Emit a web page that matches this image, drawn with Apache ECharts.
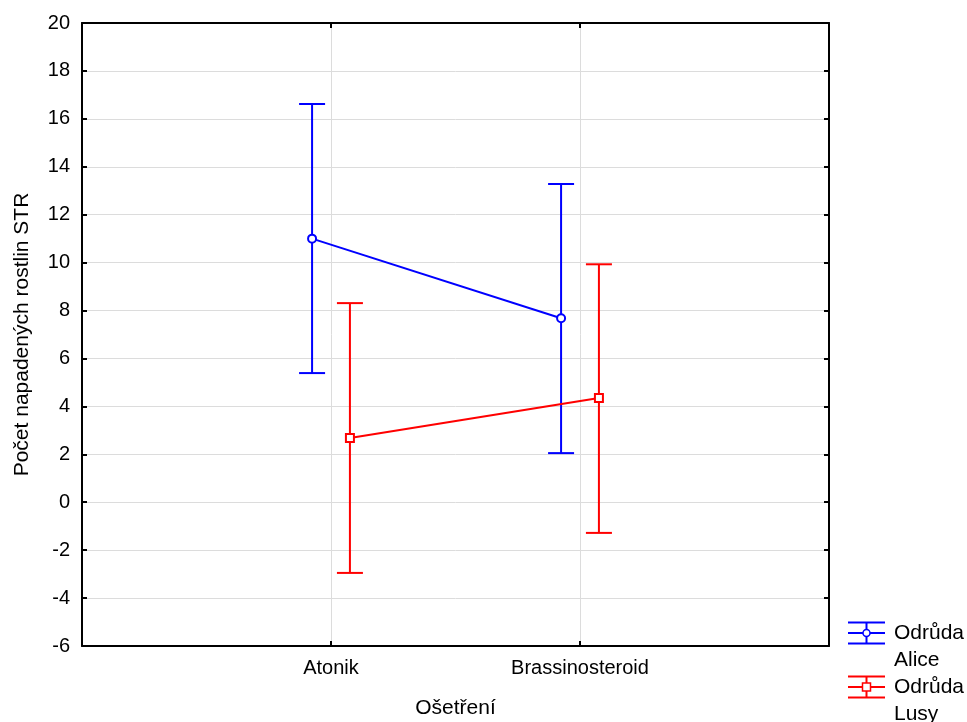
<!DOCTYPE html>
<html>
<head>
<meta charset="utf-8">
<script src="https://cdn.jsdelivr.net/npm/echarts@6/dist/echarts.min.js"></script>
<style>html,body{margin:0;padding:0;background:#fff}#c{width:967px;height:722px}</style>
</head>
<body>
<div id="c"></div>
<script>
// ---- data ----
var categories = ['Atonik', 'Brassinosteroid'];
var seriesNames = ['Odrůda Alice', 'Odrůda Lusy'];
var aliceMean = [11.0, 7.68];
var aliceLow = [5.39, 2.05];
var aliceHigh = [16.62, 13.28];
var lusyMean = [2.68, 4.35];
var lusyLow = [-2.95, -1.28];
var lusyHigh = [8.31, 9.93];
var yTicks = [-6, -4, -2, 0, 2, 4, 6, 8, 10, 12, 14, 16, 18, 20];

// ---- styling / layout ----
var FONT = 'Liberation Sans, Arial, sans-serif';
var FS = 20;
var FSN = 21;
var BLUE = '#0000ff', RED = '#ff0000';
var OFFSET = 0.076;

function pts(means, off) {
  return means.map(function (v, i) { return [i + 1 + off, v]; });
}
function bars(lows, highs, off) {
  return lows.map(function (l, i) { return [i + 1 + off, l, highs[i]]; });
}
function errRender(color) {
  return function (params, api) {
    var x = api.value(0);
    var lo = api.coord([x, api.value(1)]);
    var hi = api.coord([x, api.value(2)]);
    var hw = 13;
    var st = { stroke: color, lineWidth: 2 };
    return {
      type: 'group',
      children: [
        { type: 'line', shape: { x1: lo[0], y1: lo[1], x2: hi[0], y2: hi[1] }, style: st },
        { type: 'line', shape: { x1: hi[0] - hw, y1: hi[1], x2: hi[0] + hw, y2: hi[1] }, style: st },
        { type: 'line', shape: { x1: lo[0] - hw, y1: lo[1], x2: lo[0] + hw, y2: lo[1] }, style: st }
      ]
    };
  };
}

function axisLineStyle() { return { onZero: false, lineStyle: { color: '#000', width: 2 } }; }
function tickStyle() { return { show: true, inside: true, length: 5, lineStyle: { color: '#000', width: 2 } }; }

function legendItem(y, color, symbol, label1, label2) {
  var st = { stroke: color, lineWidth: 2 };
  var cx = 866.5;
  var sym = symbol === 'circle'
    ? { type: 'circle', shape: { cx: cx, cy: y, r: 3.5 }, style: { stroke: color, fill: '#fff', lineWidth: 1.5 } }
    : { type: 'rect', shape: { x: cx - 4, y: y - 4, width: 8, height: 8 }, style: { stroke: color, fill: '#fff', lineWidth: 1.5 } };
  return [
    { type: 'line', shape: { x1: 848, y1: y - 10.5, x2: 885, y2: y - 10.5 }, style: st },
    { type: 'line', shape: { x1: 848, y1: y, x2: 885, y2: y }, style: st },
    { type: 'line', shape: { x1: 848, y1: y + 10.5, x2: 885, y2: y + 10.5 }, style: st },
    { type: 'line', shape: { x1: cx, y1: y - 10.5, x2: cx, y2: y + 10.5 }, style: st },
    sym,
    { type: 'text', x: 894, y: y, style: { text: label1, font: FSN + 'px ' + FONT, fill: '#000', verticalAlign: 'middle' } },
    { type: 'text', x: 894, y: y + 27, style: { text: label2, font: FSN + 'px ' + FONT, fill: '#000', verticalAlign: 'middle' } }
  ];
}

var chart = echarts.init(document.getElementById('c'), null, { renderer: 'canvas' });
var nameParts = seriesNames.map(function (n) { return n.split(' '); });
chart.setOption({
  animation: false,
  backgroundColor: '#fff',
  textStyle: { fontFamily: FONT },
  grid: { left: 82, right: 138, top: 23, bottom: 76, containLabel: false, outerBoundsMode: 'none' },
  xAxis: [{
    type: 'value', min: 0, max: 3, interval: 1, position: 'bottom',
    name: 'Ošetření', nameLocation: 'middle', nameGap: 52,
    nameTextStyle: { fontSize: FSN, color: '#000', fontFamily: FONT },
    axisLine: axisLineStyle(), axisTick: tickStyle(),
    axisLabel: { fontSize: FS, color: '#000', margin: 12, fontFamily: FONT,
      formatter: function (v) { return categories[v - 1] || ''; } },
    splitLine: { show: true, lineStyle: { color: '#dcdcdc', width: 1 } }
  }, {
    type: 'value', min: 0, max: 3, interval: 1, position: 'top',
    axisLine: axisLineStyle(), axisTick: tickStyle(), axisLabel: { show: false }, splitLine: { show: false }
  }],
  yAxis: [{
    type: 'value', min: yTicks[0], max: yTicks[yTicks.length - 1], interval: 2, position: 'left',
    name: 'Počet napadených rostlin STR', nameLocation: 'middle', nameGap: 49,
    nameTextStyle: { fontSize: FSN, color: '#000', fontFamily: FONT },
    axisLine: axisLineStyle(), axisTick: tickStyle(),
    axisLabel: { fontSize: FS, color: '#000', margin: 12, fontFamily: FONT },
    splitLine: { show: true, lineStyle: { color: '#dcdcdc', width: 1 } }
  }, {
    type: 'value', min: yTicks[0], max: yTicks[yTicks.length - 1], interval: 2, position: 'right',
    axisLine: axisLineStyle(), axisTick: tickStyle(), axisLabel: { show: false }, splitLine: { show: false }
  }],
  series: [
    { type: 'custom', name: seriesNames[0], renderItem: errRender(BLUE), data: bars(aliceLow, aliceHigh, -OFFSET), z: 2 },
    { type: 'custom', name: seriesNames[1], renderItem: errRender(RED), data: bars(lusyLow, lusyHigh, OFFSET), z: 2 },
    { type: 'line', name: seriesNames[0], data: pts(aliceMean, -OFFSET), symbol: 'emptyCircle', symbolSize: 8,
      lineStyle: { color: BLUE, width: 2 }, itemStyle: { color: BLUE, borderWidth: 1.5 }, z: 3 },
    { type: 'line', name: seriesNames[1], data: pts(lusyMean, OFFSET), symbol: 'emptyRect', symbolSize: 8,
      lineStyle: { color: RED, width: 2 }, itemStyle: { color: RED, borderWidth: 1.5 }, z: 3 }
  ],
  graphic: [].concat(
    legendItem(633, BLUE, 'circle', nameParts[0][0], nameParts[0][1]),
    legendItem(687, RED, 'rect', nameParts[1][0], nameParts[1][1])
  )
});
</script>
</body>
</html>
